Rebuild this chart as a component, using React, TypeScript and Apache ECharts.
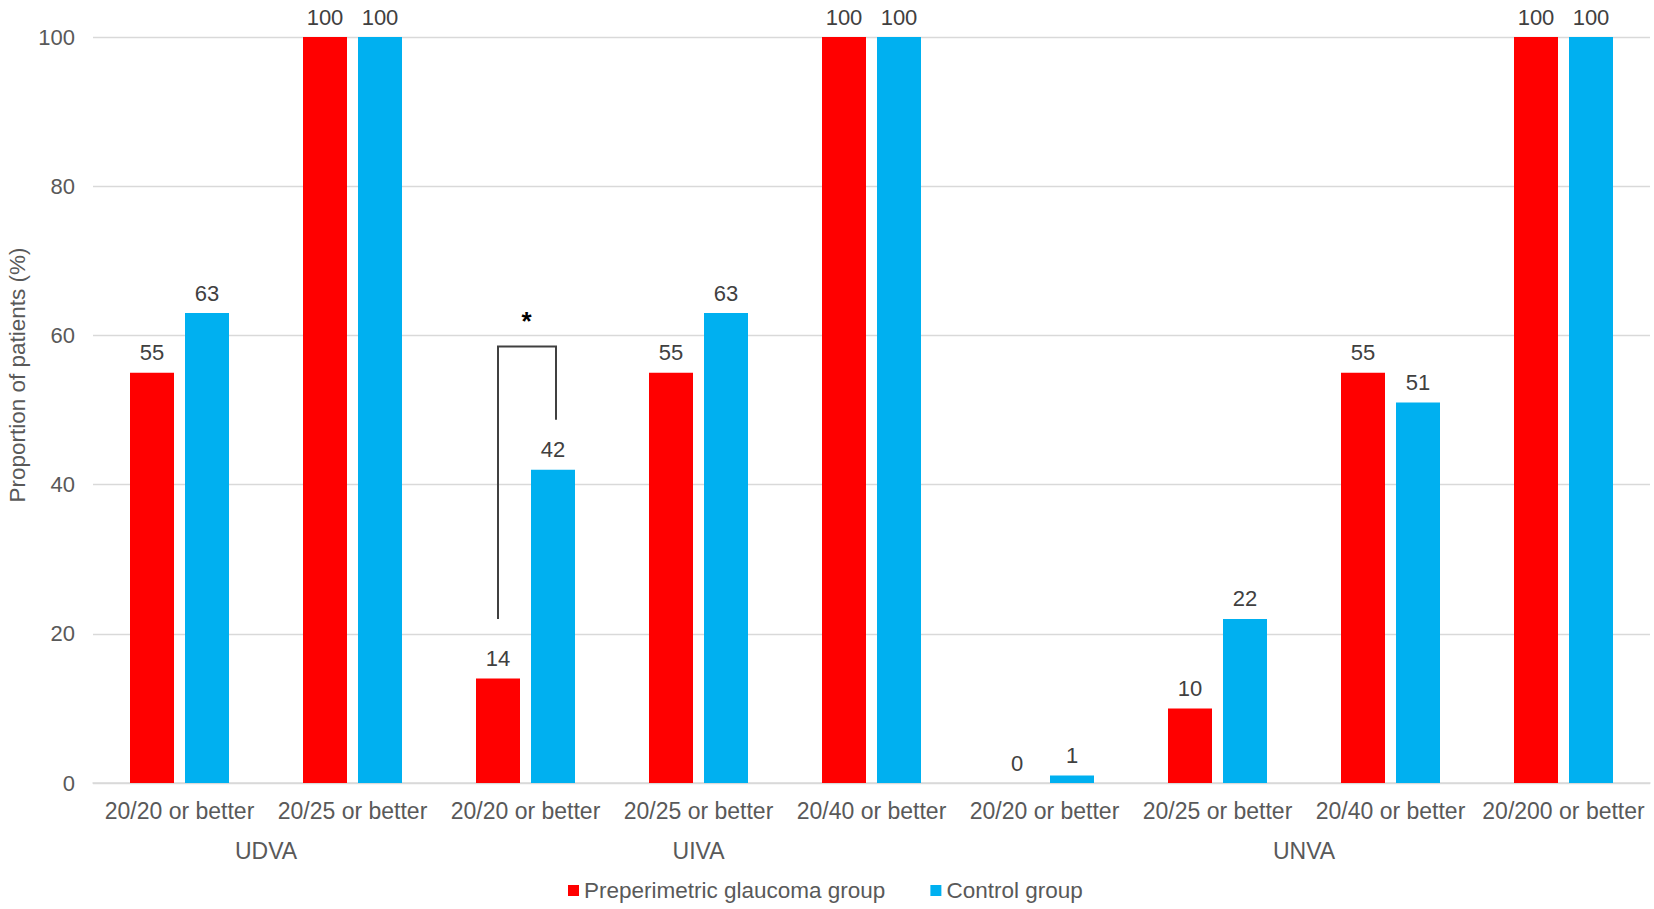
import React, { useEffect, useRef } from "react";
import * as echarts from "echarts";

const categories = [
  "20/20 or better",
  "20/25 or better",
  "20/20 or better",
  "20/25 or better",
  "20/40 or better",
  "20/20 or better",
  "20/25 or better",
  "20/40 or better",
  "20/200 or better",
];
const glaucoma = [55, 100, 14, 55, 100, 0, 10, 55, 100];
const control = [63, 100, 42, 63, 100, 1, 22, 51, 100];
const groups = [
  { name: "UDVA", from: 0, to: 1 },
  { name: "UIVA", from: 2, to: 4 },
  { name: "UNVA", from: 5, to: 8 },
];
const yTicks = { min: 0, max: 100, interval: 20 };
// significance bracket (category index, top value, left-bottom value, right-bottom value, star value)
const bracket = { cat: 2, top: 58.5, leftBottom: 22, rightBottom: 48.7, star: 62.5 };

const FONT = "'Liberation Sans', Arial, sans-serif";
const BAR_W = 44;
const BAR_GAP = 11;

export default function App() {
  const ref = useRef<HTMLDivElement>(null);
  useEffect(() => {
    if (!ref.current) return;
    const chart = echarts.init(ref.current, undefined, { renderer: "svg" });
    const labelCfg = {
      show: true,
      position: "top" as const,
      distance: 9,
      color: "#404040",
      fontSize: 22,
      fontFamily: FONT,
    };
    chart.setOption({
      animation: false,
      backgroundColor: "#ffffff",
      textStyle: { fontFamily: FONT },
      grid: { left: 93, right: 4, top: 37, bottom: 126, containLabel: false },
      legend: {
        left: 563,
        top: 874,
        icon: "rect",
        itemWidth: 11,
        itemHeight: 11,
        itemGap: 45,
        textStyle: { fontSize: 22.5, color: "#595959", fontFamily: FONT },
        data: ["Preperimetric glaucoma group", "Control group"],
      },
      xAxis: {
        type: "category",
        data: categories,
        axisLine: { show: true, lineStyle: { color: "#d9d9d9", width: 1.5 } },
        axisTick: { show: false },
        axisLabel: {
          color: "#595959",
          fontSize: 23,
          fontFamily: FONT,
          margin: 16,
          interval: 0,
        },
      },
      yAxis: {
        type: "value",
        min: yTicks.min,
        max: yTicks.max,
        interval: yTicks.interval,
        axisLine: { show: false },
        axisTick: { show: false },
        axisLabel: { color: "#595959", fontSize: 22, fontFamily: FONT, margin: 18 },
        splitLine: { lineStyle: { color: "#d9d9d9", width: 1.3 } },
      },
      series: [
        {
          name: "Preperimetric glaucoma group",
          type: "bar",
          data: glaucoma,
          barWidth: BAR_W,
          barGap: `${(BAR_GAP / BAR_W) * 100}%`,
          itemStyle: { color: "#FF0000" },
          label: labelCfg,
        },
        {
          name: "Control group",
          type: "bar",
          data: control,
          barWidth: BAR_W,
          barGap: `${(BAR_GAP / BAR_W) * 100}%`,
          itemStyle: { color: "#00B0F0" },
          label: labelCfg,
        },
      ],
    });

    const px = (cat: number) => chart.convertToPixel({ xAxisIndex: 0 }, cat) as number;
    const py = (v: number) => chart.convertToPixel({ yAxisIndex: 0 }, v) as number;
    const off = (BAR_W + BAR_GAP) / 2;
    const cx = px(bracket.cat);
    const lx = cx - off;
    const rx = cx + off + 3;
    const graphics: any[] = [];
    groups.forEach((g) => {
      graphics.push({
        type: "text",
        x: (px(g.from) + px(g.to)) / 2,
        y: 851,
        style: {
          text: g.name,
          fill: "#595959",
          fontSize: 23,
          fontFamily: FONT,
          textAlign: "center",
          textVerticalAlign: "middle",
        },
      });
    });
    graphics.push({
      type: "text",
      x: 17,
      y: 375,
      rotation: Math.PI / 2,
      style: {
        text: "Proportion of patients (%)",
        fill: "#595959",
        fontSize: 22.5,
        fontFamily: FONT,
        textAlign: "center",
        textVerticalAlign: "middle",
      },
    });
    graphics.push({
      type: "polyline",
      shape: {
        points: [
          [lx, py(bracket.leftBottom)],
          [lx, py(bracket.top)],
          [rx, py(bracket.top)],
          [rx, py(bracket.rightBottom)],
        ],
      },
      style: { stroke: "#404040", lineWidth: 2, fill: null },
    });
    graphics.push({
      type: "text",
      x: cx + 1,
      y: py(bracket.star) + 4,
      style: {
        text: "*",
        fill: "#000000",
        fontSize: 26,
        fontWeight: "bold",
        fontFamily: FONT,
        textAlign: "center",
        textVerticalAlign: "middle",
      },
    });
    chart.setOption({ graphic: graphics });

    return () => chart.dispose();
  }, []);
  return (
    <div
      ref={ref}
      style={{ position: "fixed", left: 0, top: 0, width: 1654, height: 909, background: "#fff" }}
    />
  );
}
